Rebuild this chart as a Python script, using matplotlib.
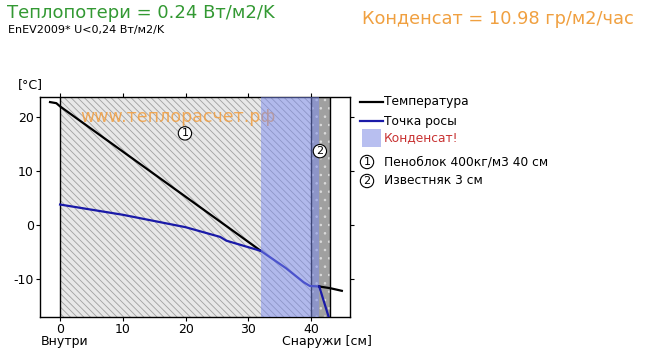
import matplotlib
matplotlib.use("Agg")
import matplotlib.pyplot as plt
from matplotlib.lines import Line2D
from matplotlib.patches import Rectangle

plt.rcParams['font.family'] = ['DejaVu Sans']
plt.rcParams['axes.unicode_minus'] = False

# --- данные ---
# слои стены (см)
layer_bounds = [0, 40, 43]
layer_names = ['Пеноблок 400кг/м3 40 см', 'Известняк 3 см']
condensate_zone = [32, 41.3]

# температура
temp_x = [-1.6, -0.6, 0.0, 32.0]
temp_y = [22.8, 22.6, 22.0, -4.8]
temp_out_x = [41.3, 43.0, 44.9]
temp_out_y = [-11.4, -11.7, -12.2]

# точка росы
dew_x = [0.0, 10.0, 20.0, 25.5, 26.5, 32.0]
dew_y = [3.8, 1.9, -0.4, -2.2, -2.9, -4.8]
cond_x = [32.0, 36.0, 38.8, 39.8, 41.3]
cond_y = [-4.8, -8.0, -10.6, -11.3, -11.4]
dew_out_x = [41.3, 43.0]
dew_out_y = [-11.4, -17.8]

xticks = [0, 10, 20, 30, 40]
yticks = [-10, 0, 10, 20]

W, H = 653, 356
fig = plt.figure(figsize=(W / 100, H / 100), dpi=100)
ax = fig.add_axes([40 / W, 1 - 316.7 / H, 310 / W, 220 / H])
ax.set_xlim(-3.2, 46.2)
ax.set_ylim(-17.0, 23.8)

# слой 1 - штриховка
plt.rcParams['hatch.color'] = '#a8a8a8'
plt.rcParams['hatch.linewidth'] = 0.6
ax.add_patch(Rectangle((layer_bounds[0], -50), layer_bounds[1] - layer_bounds[0], 100,
                       facecolor='#e8e8e8', edgecolor='#a0a0a0', hatch='\\\\\\\\\\', lw=0, zorder=1))
# слой 2 - камень
ax.add_patch(Rectangle((layer_bounds[1], -50), layer_bounds[2] - layer_bounds[1], 100,
                       facecolor='#a0a0a0', lw=0, zorder=1))
ax.add_patch(Rectangle((layer_bounds[1], -50), layer_bounds[2] - layer_bounds[1], 100,
                       facecolor='none', edgecolor='#dcdcdc', hatch='..', lw=0, zorder=1))
for b in layer_bounds:
    ax.axvline(b, color='black', lw=1.0, zorder=2)

# водяной знак
ax.text(3.2, 20.0, 'www.теплорасчет.рф', color='#f39a35', alpha=0.8, fontsize=12.5,
        va='center', ha='left', zorder=3)

# линии
ax.plot(temp_x, temp_y, color='black', lw=1.6, zorder=4)
ax.plot(dew_x, dew_y, color='#1a1aa8', lw=1.6, zorder=4)
ax.plot(cond_x, cond_y, color='#1a1aa8', lw=1.6, zorder=4)
ax.plot(temp_out_x, temp_out_y, color='black', lw=1.6, zorder=6)
ax.plot(dew_out_x, dew_out_y, color='#1a1aa8', lw=1.6, zorder=6)

# зона конденсата
ax.axvspan(condensate_zone[0], condensate_zone[1], color='#7c8cf0', alpha=0.5, lw=0, zorder=5)

# номера слоёв
circ = dict(boxstyle='circle,pad=0.15', fc='white', ec='black', lw=0.8)
ax.text(19.9, 17.0, '1', fontsize=8, ha='center', va='center', bbox=circ, zorder=7)
ax.text(41.4, 13.7, '2', fontsize=8, ha='center', va='center', bbox=circ, zorder=7)

ax.set_xticks(xticks)
ax.set_yticks(yticks)
ax.tick_params(axis='both', which='both', direction='out', length=3, pad=1.5, labelsize=9,
               top=True, right=True, labeltop=False, labelright=False)
for s in ax.spines.values():
    s.set_linewidth(1.0)

def fx(px):
    return px / W

def fy(py):
    return 1 - py / H

fig.text(fx(18), fy(85), '[°C]', fontsize=9, va='center', ha='left')
fig.text(fx(41), fy(342), 'Внутри', fontsize=9, va='center', ha='left')
fig.text(fx(372), fy(342), 'Снаружи [см]', fontsize=9, va='center', ha='right')

# заголовки
fig.text(fx(7), fy(13), 'Теплопотери = 0.24 Вт/м2/K', fontsize=13, color='#339933',
         va='center', ha='left')
fig.text(fx(8), fy(30), 'EnEV2009* U<0,24 Вт/м2/K', fontsize=8, color='black',
         va='center', ha='left')
fig.text(fx(362), fy(19), 'Конденсат = 10.98 гр/м2/час', fontsize=12.8, color='#f0a040',
         va='center', ha='left')

# легенда
fig.add_artist(Line2D([fx(360), fx(383)], [fy(102), fy(102)], color='black', lw=1.6))
fig.text(fx(384), fy(102), 'Температура', fontsize=8.8, va='center', ha='left')
fig.add_artist(Line2D([fx(360), fx(383)], [fy(121), fy(121)], color='#1a1aa8', lw=1.6))
fig.text(fx(384), fy(121), 'Точка росы', fontsize=8.8, va='center', ha='left')
fig.add_artist(Rectangle((fx(362), fy(147)), fx(19), 18 / H, facecolor='#b8bff0', lw=0,
                         transform=fig.transFigure))
fig.text(fx(384), fy(138), 'Конденсат!', fontsize=8.8, color='#c83232', va='center', ha='left')
for i, name in enumerate(layer_names):
    y = 162 + 19 * i
    fig.text(fx(367), fy(y), str(i + 1), fontsize=8, ha='center', va='center',
             bbox=dict(boxstyle='circle,pad=0.15', fc='white', ec='black', lw=0.8))
    fig.text(fx(384), fy(y), name, fontsize=8.8, va='center', ha='left')

fig.savefig('out.png', dpi=100)
